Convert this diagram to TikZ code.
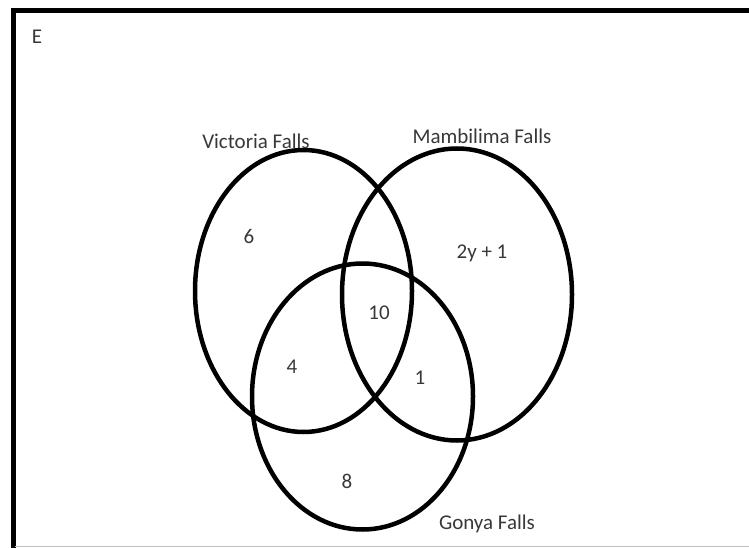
\documentclass[tikz,border=0pt]{standalone}
\usepackage{fontspec}
\setmainfont{Carlito}
\definecolor{txt}{HTML}{383838}
\tikzset{
  setline/.style={line width=4.5pt, black},
  lbl/.style={text=txt, font=\fontsize{21}{25}\selectfont, inner sep=0pt, anchor=center}
}
\begin{document}
\begin{tikzpicture}[x=1pt,y=-1pt]
\useasboundingbox (0,0) rectangle (749,548);
\begin{scope}
\clip (0,0) rectangle (749,548);
\draw[line width=5pt] (13,10.5) -- (800,10.5);
\draw[line width=5pt] (13,8) -- (13,560);
\draw[line width=0.8pt, black!25] (15,546.5) -- (749,546.5);
\end{scope}
\draw[setline] (303.5,291) ellipse [x radius=108.5, y radius=141];
\draw[setline] (457,294.5) ellipse [x radius=115, y radius=146];
\draw[setline] (362.5,396.5) ellipse [x radius=110.5, y radius=133];
\node[lbl] (e) at (37,37) {E};
\node[lbl] (vf) at (256,141) {Victoria Falls};
\node[lbl] (mf) at (482,136) {Mambilima Falls};
\node[lbl] (gf) at (487,524) {Gonya Falls};
\node[lbl] (n6) at (249,236) {6};
\node[lbl] (n2y) at (482,253) {2y + 1};
\node[lbl] (n10) at (379,313) {10};
\node[lbl] (n4) at (292,367) {4};
\node[lbl] (n1) at (420,378) {1};
\node[lbl] (n8) at (347,481) {8};
\end{tikzpicture}
\end{document}
